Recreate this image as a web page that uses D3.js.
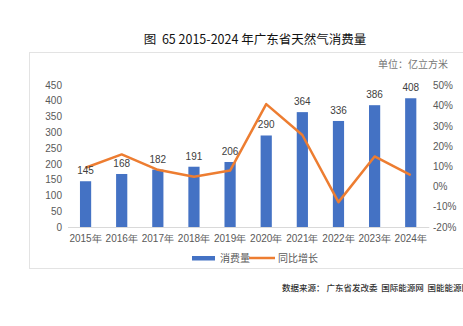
<!DOCTYPE html>
<html><head><meta charset="utf-8">
<script src="https://cdn.jsdelivr.net/npm/d3@7"></script>
<style>body{margin:0;background:#fff;}svg{display:block;}</style>
</head><body>
<script>
const years = ["2015年","2016年","2017年","2018年","2019年","2020年","2021年","2022年","2023年","2024年"];
const consumption = [145,168,182,191,206,290,364,336,386,408];
const growth = [9.3,15.9,8.3,4.9,7.9,40.8,25.5,-7.7,14.9,5.7];
const leftTicks = [0,50,100,150,200,250,300,350,400,450];
const rightTicks = [-20,-10,0,10,20,30,40,50];

const W=463,H=326;
const svg=d3.select("body").append("svg").attr("width",W).attr("height",H);
const font="'Liberation Sans', Arial, sans-serif";
const cjk="'Noto Sans CJK SC', sans-serif";

// frame
svg.append("rect").attr("x",29.5).attr("y",52.5).attr("width",500).attr("height",216)
  .attr("fill","none").attr("stroke","#e3e3e3").attr("stroke-width",1);

// title
svg.append("text").attr("x",255).attr("y",44).attr("text-anchor","middle")
  .attr("font-family",cjk).attr("font-size",12.5).attr("font-weight",400).attr("fill","#111")
  .attr("xml:space","preserve")
  .text("图  65 2015-2024 年广东省天然气消费量");

svg.append("text").attr("x",448).attr("y",68).attr("text-anchor","end")
  .attr("font-family",cjk).attr("font-size",10).attr("fill","#777").text("单位：亿立方米");

const x=d3.scaleBand().domain(years).range([67.5,428.8]).paddingInner(0.69).paddingOuter(0.345);
const yL=d3.scaleLinear().domain([0,450]).range([227,85]);
const yR=d3.scaleLinear().domain([-20,50]).range([227,85.5]);

// bars
svg.selectAll("rect.bar").data(consumption).join("rect").attr("class","bar")
  .attr("x",(d,i)=>x(years[i])).attr("width",x.bandwidth())
  .attr("y",d=>yL(d)).attr("height",d=>yL(0)-yL(d)).attr("fill","#4472C4");

// x axis
const xa=svg.append("g").attr("transform","translate(0,227)").call(d3.axisBottom(x).tickSize(0).tickPadding(8));
xa.select(".domain").attr("stroke","#d9d9d9");
xa.selectAll("text").attr("font-family",font).attr("font-size",10).attr("fill","#595959");

// left axis
const la=svg.append("g").attr("transform","translate(62,0)").call(d3.axisLeft(yL).tickValues(leftTicks).tickSize(0).tickPadding(0));
la.select(".domain").remove();
la.selectAll("text").attr("font-family",font).attr("font-size",10).attr("fill","#595959");

// right axis
const ra=svg.append("g").attr("transform","translate(433,0)").call(d3.axisRight(yR).tickValues(rightTicks).tickSize(0).tickPadding(0).tickFormat(d=>d+"%"));
ra.select(".domain").remove();
ra.selectAll("text").attr("font-family",font).attr("font-size",10).attr("fill","#595959");

// line
const line=d3.line().x((d,i)=>x(years[i])+x.bandwidth()/2).y(d=>yR(d));
svg.append("path").datum(growth).attr("d",line).attr("fill","none")
  .attr("stroke","#ED7D31").attr("stroke-width",2.5).attr("stroke-linejoin","round");

// bar labels
svg.selectAll("text.lbl").data(consumption).join("text").attr("class","lbl")
  .attr("x",(d,i)=>x(years[i])+x.bandwidth()/2).attr("y",d=>yL(d)-7)
  .attr("text-anchor","middle").attr("font-family",font).attr("font-size",10).attr("fill","#404040")
  .text(d=>d);

// legend
svg.append("rect").attr("x",192).attr("y",256).attr("width",23).attr("height",4.5).attr("fill","#4472C4");
svg.append("text").attr("x",220).attr("y",262).attr("font-family",cjk).attr("font-size",10).attr("fill","#595959").text("消费量");
svg.append("line").attr("x1",249).attr("x2",275).attr("y1",258).attr("y2",258).attr("stroke","#ED7D31").attr("stroke-width",2.5);
svg.append("text").attr("x",278).attr("y",262).attr("font-family",cjk).attr("font-size",10).attr("fill","#595959").text("同比增长");

// source
svg.append("text").attr("x",282).attr("y",291).attr("font-family",cjk).attr("font-size",8.5).attr("font-weight",500).attr("fill","#333")
  .attr("xml:space","preserve")
  .text("数据来源： 广东省发改委  国际能源网  国能能源网");
</script>
</body></html>
